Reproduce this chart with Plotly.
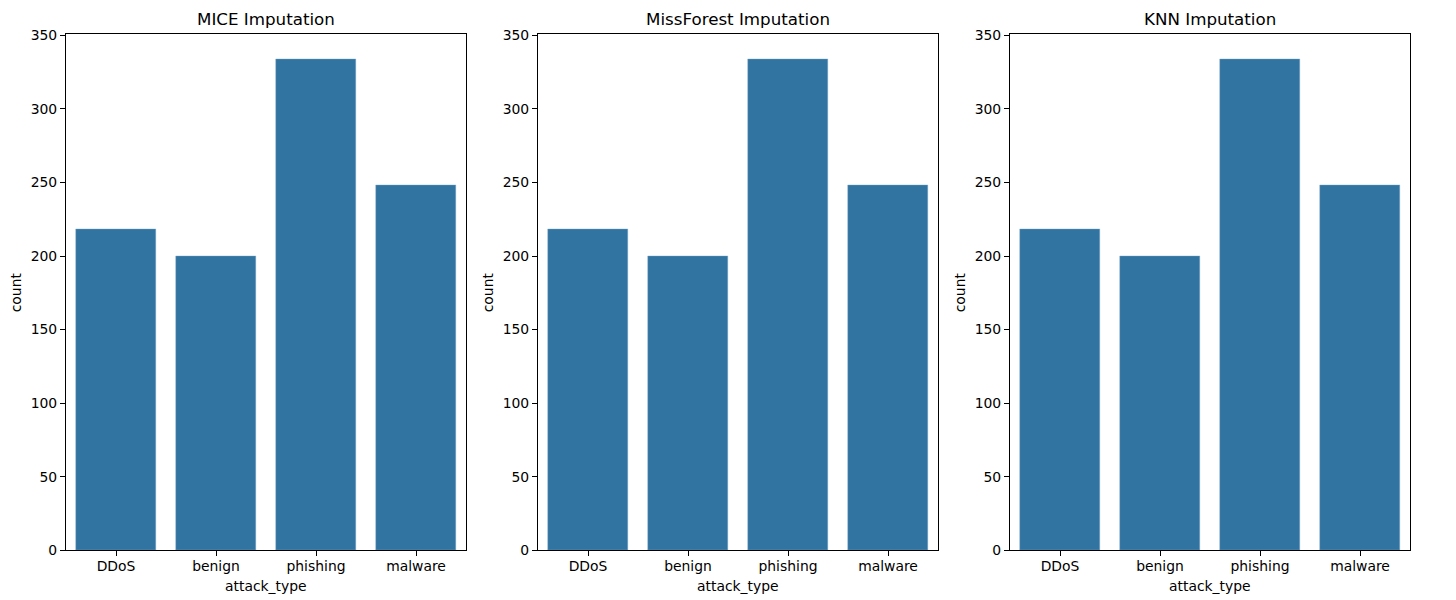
import plotly.graph_objects as go

categories = ["DDoS", "benign", "phishing", "malware"]
mice_counts = [218, 200, 334, 248]
missforest_counts = [218, 200, 334, 248]
knn_counts = [218, 200, 334, 248]
panel_titles = ["MICE Imputation", "MissForest Imputation", "KNN Imputation"]
y_ticks = [0, 50, 100, 150, 200, 250, 300, 350]

# page placement: 8px horizontal body margin; vertical mapping measured empirically
XOFF = 8
YS, YOFF = 0.973, 15.2
W, H = 1440, 600
BAR = "#3274a1"
FONT = "DejaVu Sans"


def fy(y_ref):
    return y_ref / YS - YOFF


panels = [(66 - XOFF, 466 - XOFF), (538 - XOFF, 938 - XOFF), (1010 - XOFF, 1410 - XOFF)]
top, bottom = fy(34), fy(549)
ydom = [(H - bottom) / H, (H - top) / H]

fig = go.Figure()
series = [mice_counts, missforest_counts, knn_counts]
annotations = []
layout = {}
for i, (vals, (x0, x1), title) in enumerate(zip(series, panels, panel_titles)):
    n = "" if i == 0 else str(i + 1)
    fig.add_trace(go.Bar(
        x=list(range(len(categories))), y=vals, width=0.8,
        marker=dict(color=BAR, line=dict(color="rgba(120,165,200,0.8)", width=0.5)),
        xaxis="x" + n, yaxis="y" + n, showlegend=False,
        hovertext=categories,
    ))
    common = dict(
        showline=True, linecolor="black", linewidth=1.1, mirror=True,
        ticks="outside", ticklen=5, tickwidth=1.1, tickcolor="black",
        showgrid=False, zeroline=False,
        tickfont=dict(family=FONT, size=13.9, color="black"),
    )
    layout["xaxis" + n] = dict(
        domain=[x0 / W, x1 / W], anchor="y" + n,
        range=[-0.5, 3.5], tickmode="array", ticklabelstandoff=-2,
        tickvals=list(range(len(categories))), ticktext=categories, **common,
    )
    layout["yaxis" + n] = dict(
        domain=ydom, anchor="x" + n, range=[0, 350.7],
        tickmode="array", tickvals=y_ticks, **common,
    )
    cx = (x0 + x1) / 2 / W
    annotations.append(dict(text=title, x=cx, y=(H - fy(19)) / H, xref="paper", yref="paper",
                            showarrow=False, xanchor="center", yanchor="middle",
                            font=dict(family=FONT, size=16.7, color="black")))
    annotations.append(dict(text="attack_type", x=cx, y=(H - fy(585)) / H, xref="paper", yref="paper",
                            showarrow=False, xanchor="center", yanchor="middle",
                            font=dict(family=FONT, size=13.9, color="black")))
    annotations.append(dict(text="count", x=(x0 - 50) / W, y=(H - (top + bottom) / 2) / H,
                            xref="paper", yref="paper", textangle=-90,
                            showarrow=False, xanchor="center", yanchor="middle",
                            font=dict(family=FONT, size=13.9, color="black")))

fig.update_layout(
    width=W, height=H,
    margin=dict(l=0, r=0, t=0, b=0),
    paper_bgcolor="white", plot_bgcolor="white",
    bargap=0, annotations=annotations, font=dict(family=FONT),
    **layout,
)
fig.write_html("out.html")
